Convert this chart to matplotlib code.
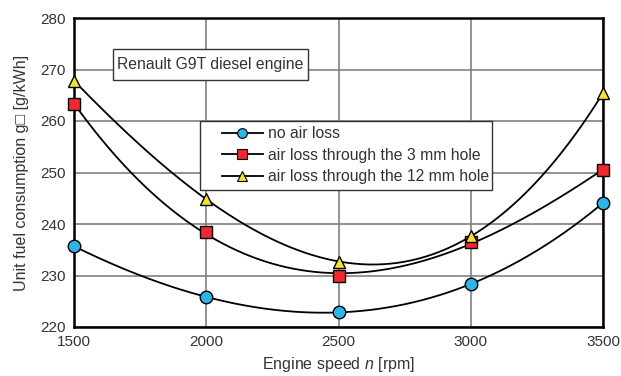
import numpy as np
import matplotlib
matplotlib.use("Agg")
import matplotlib.pyplot as plt
from matplotlib.lines import Line2D
from matplotlib.patches import Rectangle

plt.rcParams['font.family'] = ['Liberation Sans', 'DejaVu Sans']
plt.rcParams['mathtext.fontset'] = 'custom'
plt.rcParams['mathtext.it'] = 'Liberation Sans:italic'
plt.rcParams['mathtext.rm'] = 'Liberation Sans'

speed = [1500, 2000, 2500, 3000, 3500]
no_air_loss = [235.7, 225.8, 222.9, 228.3, 244.1]
hole_3mm = [263.3, 238.4, 229.9, 236.5, 250.5]
hole_12mm = [267.8, 244.9, 232.6, 237.7, 265.4]
labels = ["no air loss", "air loss through the 3 mm hole", "air loss through the 12 mm hole"]
colors = ["#2FB4E6", "#EE2A2E", "#F2E42E"]
markers = ["o", "s", "^"]

W, H = 621, 376
fig = plt.figure(figsize=(W / 100, H / 100), dpi=100)
ax = fig.add_axes([74 / W, 1 - 327 / H, 529 / W, 309 / H])

xs = np.linspace(1500, 3500, 300)
handles = []
for y, c, m, lab in zip([no_air_loss, hole_3mm, hole_12mm], colors, markers, labels):
    p = np.polyfit(speed, y, 3)
    ax.plot(xs, np.polyval(p, xs), color="black", lw=1.3, zorder=3)
    ax.plot(speed, y, linestyle="none", marker=m, markersize=9,
            markerfacecolor=c, markeredgecolor="black", markeredgewidth=1.0, zorder=4, clip_on=False)
    handles.append(Line2D([], [], color="black", lw=1.3, marker=m, markersize=7,
                          markerfacecolor=c, markeredgecolor="black", markeredgewidth=0.8))

ax.set_xlim(1500, 3500)
ax.set_ylim(220, 280)
ax.set_xticks(speed)
ax.set_yticks(range(220, 281, 10))
ax.grid(True, color="#808080", lw=1.2)
ax.set_axisbelow(True)
for s in ax.spines.values():
    s.set_linewidth(1.8)
    s.set_color("black")
ax.tick_params(length=0, labelsize=11, pad=6, colors="#333333")

ax.set_xlabel("Engine speed $\\it{n}$ [rpm]", fontsize=11.5, color="#333333", labelpad=4)
ax.set_ylabel("Unit fuel consumption g\u25a1 [g/kWh]", fontsize=11.5, color="#333333", labelpad=8)

# title box
fig.patches.append(Rectangle((113 / W, 1 - 80 / H), 195 / W, 31 / H, transform=fig.transFigure,
                             facecolor="white", edgecolor="#333333", lw=1.0, zorder=5))
fig.text(210.5 / W, 1 - 65 / H, "Renault G9T diesel engine", ha="center", va="center",
         fontsize=11.3, color="#333333", zorder=6)

# legend box
fig.patches.append(Rectangle((200 / W, 1 - 190 / H), 292 / W, 69 / H, transform=fig.transFigure,
                             facecolor="white", edgecolor="#333333", lw=1.0, zorder=5))
leg = fig.legend(handles, labels, loc="upper left", bbox_to_anchor=(222 / W, 1 - 126 / H),
                 frameon=False, fontsize=11.3, handlelength=2.6, labelspacing=0.42,
                 borderpad=0, handletextpad=0.3, borderaxespad=0)
leg.set_zorder(6)
for t in leg.get_texts():
    t.set_color("#333333")

fig.savefig("out.png", dpi=100)
